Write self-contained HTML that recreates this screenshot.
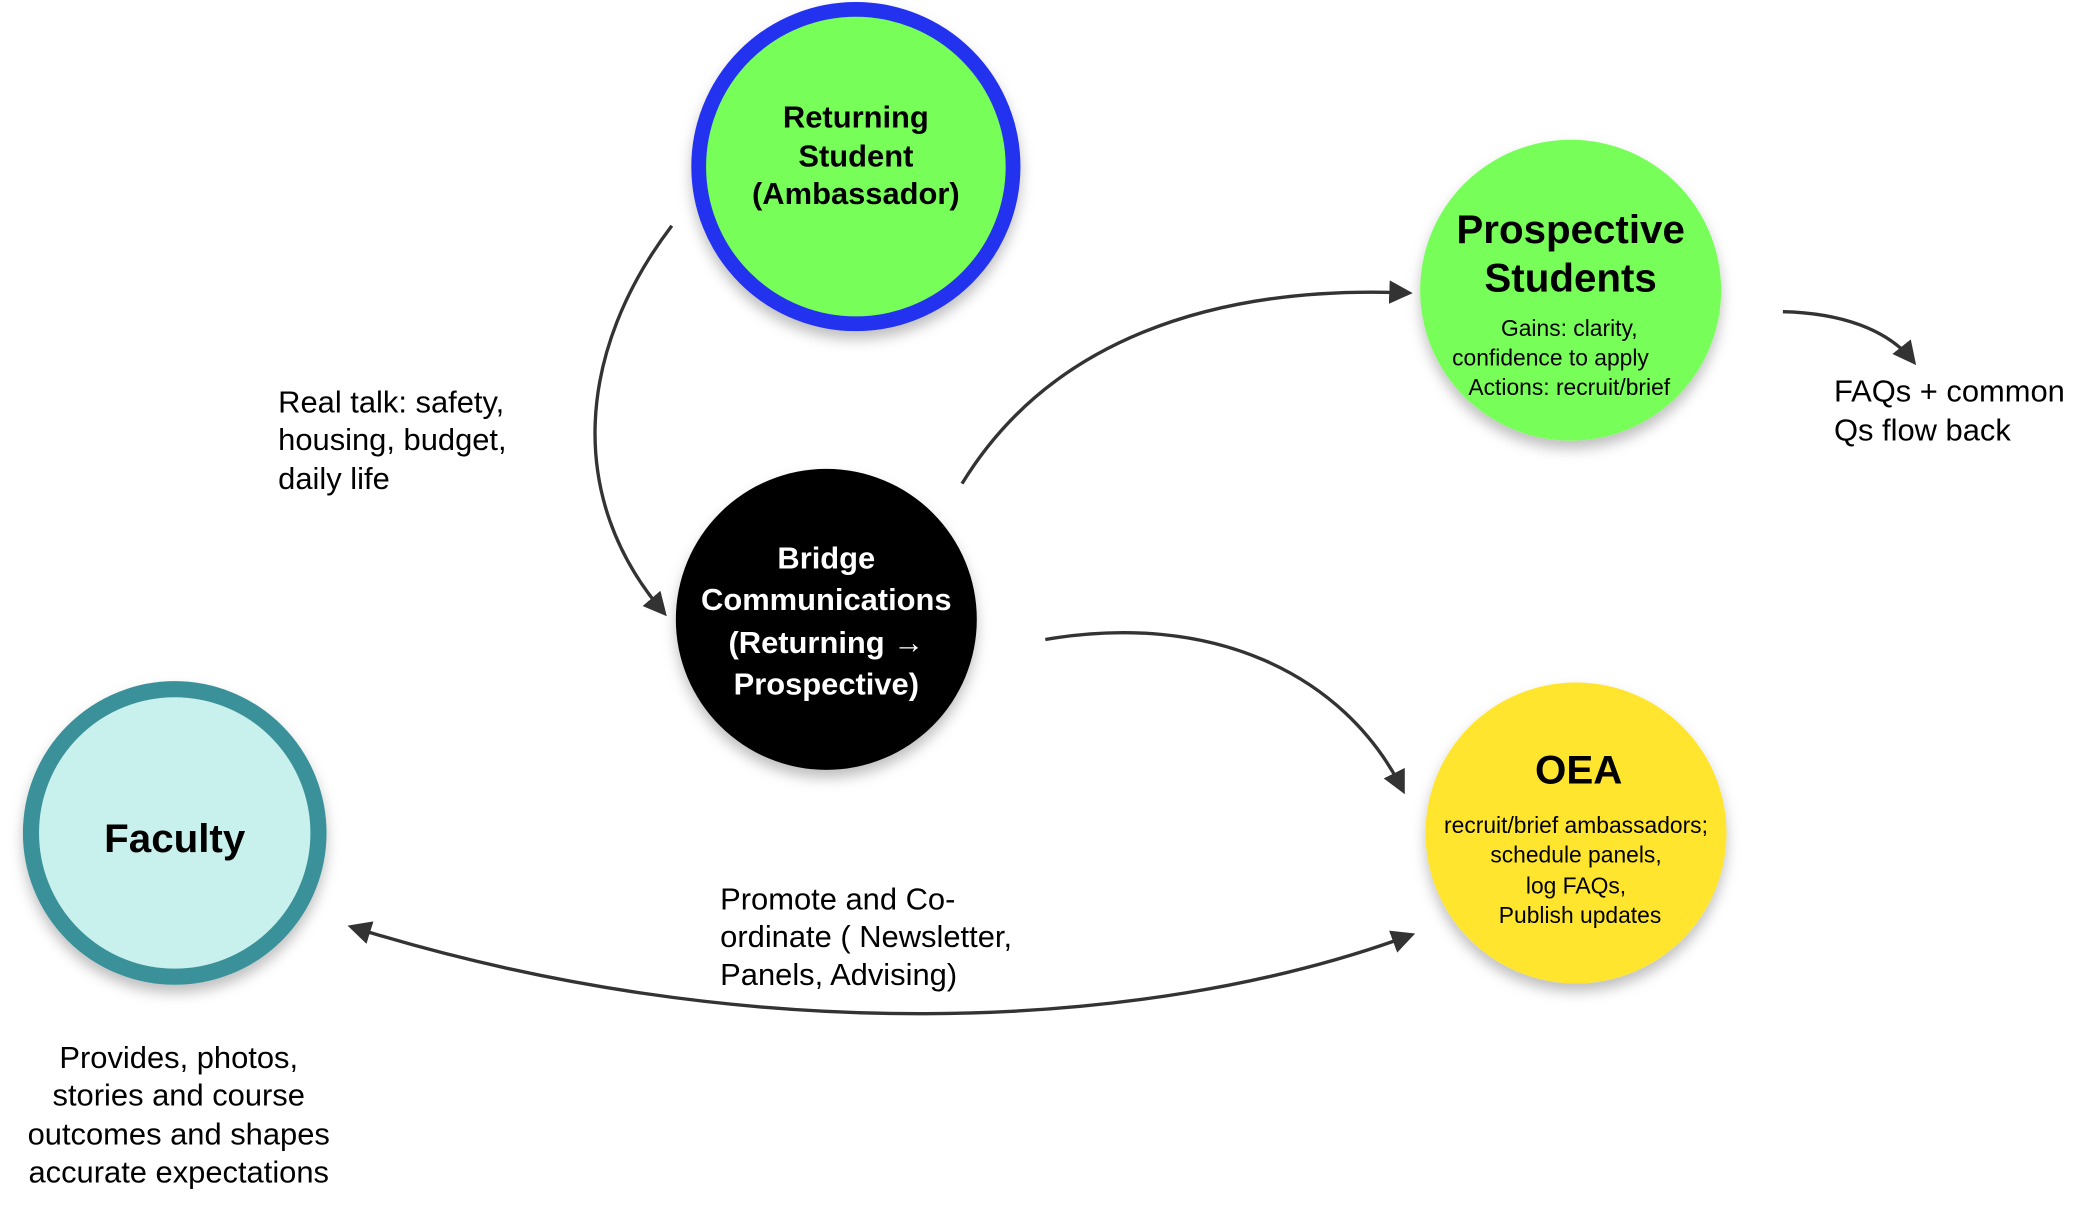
<!DOCTYPE html>
<html><head><meta charset="utf-8"><style>
html,body{margin:0;padding:0;background:#fff;}
svg{display:block;}
text{font-family:"Liberation Sans",sans-serif;}
</style></head><body>
<svg width="2096" height="1232" viewBox="0 0 1560 917" xmlns="http://www.w3.org/2000/svg">
<defs>
<filter id="sh" x="-20%" y="-20%" width="140%" height="150%"><feDropShadow dx="0" dy="6" stdDeviation="5" flood-color="#000" flood-opacity="0.25"/></filter>
<marker id="ah" viewBox="0 0 10 10" refX="8" refY="5" markerWidth="7" markerHeight="7" orient="auto-start-reverse"><path d="M0,0 L10,5 L0,10 z" fill="#333"/></marker>
</defs>
<g filter="url(#sh)">
<circle cx="637" cy="124" r="117" fill="#78fe58" stroke="#2433ee" stroke-width="11"/>
<circle cx="1169" cy="216" r="112" fill="#78fe58"/>
<circle cx="615" cy="461" r="112" fill="#000"/>
<circle cx="1173" cy="620" r="112" fill="#ffe52e"/>
<circle cx="130" cy="620" r="107" fill="#c8f0ec" stroke="#3a9199" stroke-width="12"/>
</g>
<g fill="none" stroke="#333" stroke-width="2.5">
<path d="M500,168 C430,260 420,370 494,456" marker-end="url(#ah)"/>
<path d="M716,360 C780,255 900,212 1048,218" marker-end="url(#ah)"/>
<path d="M778,476 C900,455 1000,500 1044,588" marker-end="url(#ah)"/>
<path d="M1327,232 C1370,233 1405,245 1424,269" marker-end="url(#ah)"/>
<path d="M262,690 C550,780 850,770 1050,696" marker-start="url(#ah)" marker-end="url(#ah)"/>
</g>
<g font-weight="bold" text-anchor="middle" font-size="23">
<text x="637" y="95">Returning</text>
<text x="637" y="124">Student</text>
<text x="637" y="152">(Ambassador)</text>
<text x="615" y="423" fill="#fff">Bridge</text>
<text x="615" y="454" fill="#fff">Communications</text>
<text x="615" y="486" fill="#fff">(Returning →</text>
<text x="615" y="517" fill="#fff">Prospective)</text>
<text x="1169" y="181" font-size="30">Prospective</text>
<text x="1169" y="217" font-size="30">Students</text>
<text x="1175" y="583" font-size="30">OEA</text>
<text x="130" y="634" font-size="30">Faculty</text>
</g>
<g text-anchor="middle" font-size="17">
<text x="1168" y="250">Gains: clarity,</text>
<text x="1154" y="272">confidence to apply</text>
<text x="1168" y="294">Actions: recruit/brief</text>
<text x="1173" y="620">recruit/brief ambassadors;</text>
<text x="1173" y="642">schedule panels,</text>
<text x="1173" y="665">log FAQs,</text>
<text x="1176" y="687">Publish updates</text>
</g>
<g font-size="23">
<text x="207" y="307">Real talk: safety,</text>
<text x="207" y="335">housing, budget,</text>
<text x="207" y="364">daily life</text>
<text x="1365" y="299">FAQs + common</text>
<text x="1365" y="328">Qs flow back</text>
<text x="536" y="677">Promote and Co-</text>
<text x="536" y="705">ordinate ( Newsletter,</text>
<text x="536" y="733">Panels, Advising)</text>
</g>
<g font-size="23" text-anchor="middle">
<text x="133" y="795">Provides, photos,</text>
<text x="133" y="823">stories and course</text>
<text x="133" y="852">outcomes and shapes</text>
<text x="133" y="880">accurate expectations</text>
</g>
</svg>
</body></html>
